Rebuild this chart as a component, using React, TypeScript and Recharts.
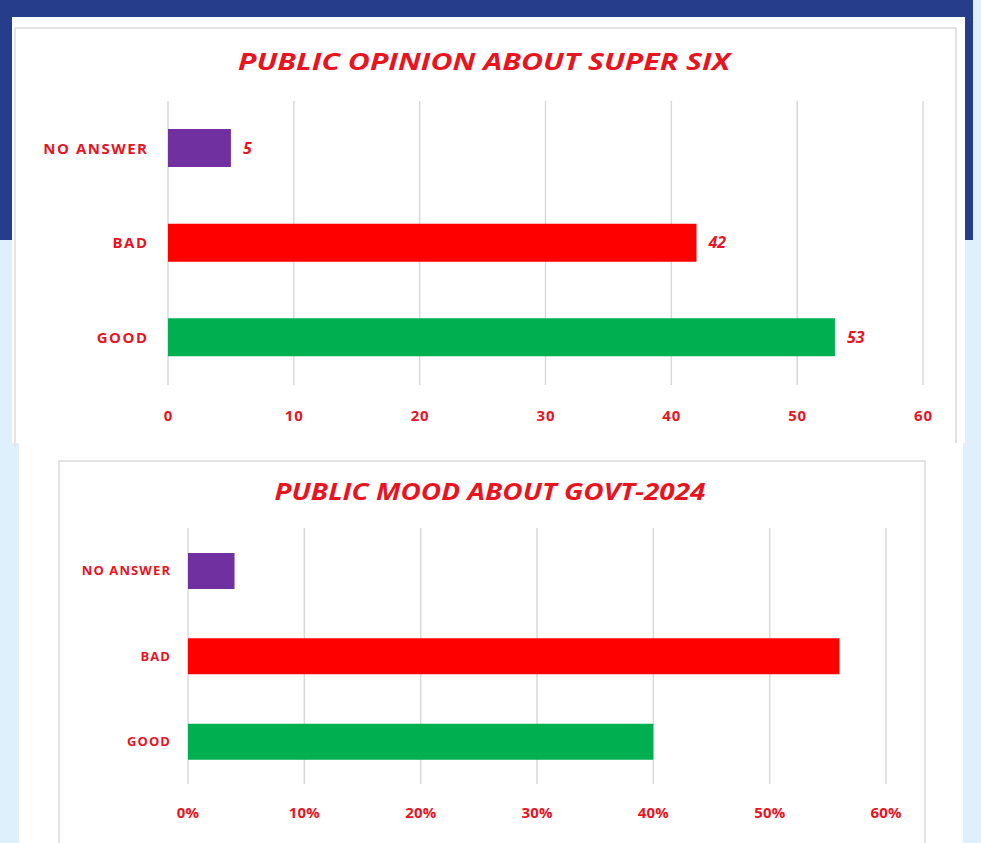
import React from 'react';
import { BarChart, Bar, XAxis, YAxis, CartesianGrid, Cell, LabelList } from 'recharts';

const categories = ['NO ANSWER', 'BAD', 'GOOD'];
const opinionValues = [5, 42, 53];
const moodValues = [4, 56, 40];
const barColors = ['#7030a0', '#ff0000', '#00b050'];
const opinionTicks = [0, 10, 20, 30, 40, 50, 60];
const moodTicks = [0, 10, 20, 30, 40, 50, 60];
const opinionTitle = 'PUBLIC OPINION ABOUT SUPER SIX';
const moodTitle = 'PUBLIC MOOD ABOUT GOVT-2024';

const opinionData = categories.map((c, i) => ({ category: c, value: opinionValues[i] }));
const moodData = categories.map((c, i) => ({ category: c, value: moodValues[i] }));

const RED = '#e8141f';
const FONT = '"Open Sans", Lato, sans-serif';

const makeYTick = (fontSize: number, spacing: number) => (props: any) => {
  const { x, y, payload } = props;
  return (
    <text x={x + spacing} y={y} dy="0.36em" textAnchor="end" fill={RED} fontFamily={FONT}
      fontWeight={700} fontSize={fontSize} style={{ letterSpacing: spacing }}>
      {payload.value}
    </text>
  );
};

const makeXTick = (fontSize: number, spacing: number, suffix: string) => (props: any) => {
  const { x, y, payload } = props;
  return (
    <text x={x + spacing / 2} y={y} dy="0.36em" textAnchor="middle" fill={RED} fontFamily={FONT}
      fontWeight={700} fontSize={fontSize} style={{ letterSpacing: spacing }}>
      {`${payload.value}${suffix}`}
    </text>
  );
};

const abs = (l: number, t: number, w: number, h: number, extra: any = {}) => ({
  position: 'absolute' as const, left: l, top: t, width: w, height: h, ...extra,
});

export default function App() {
  return (
    <div style={{ position: 'absolute', left: 0, top: 0, width: 981, height: 843, background: '#ddf0fb', overflow: 'hidden' }}>
      {/* dark blue band */}
      <div style={abs(0, 0, 973, 240, { background: '#253d8b' })} />
      {/* panel 1 */}
      <div style={abs(12, 17, 953, 426, { background: '#ffffff' })} />
      <div style={abs(14, 27, 943, 420, { borderLeft: '2px solid #e4e4e4', borderTop: '2px solid #e4e4e4', borderRight: '2px solid #e4e4e4', boxSizing: 'border-box' })} />
      {/* panel 2 */}
      <div style={abs(19, 443, 944, 400, { background: '#ffffff' })} />
      <div style={abs(58, 460, 868, 390, { border: '2px solid #e4e4e4', boxSizing: 'border-box' })} />

      {/* titles */}
      <svg style={abs(0, 0, 981, 843)} width={981} height={843}>
        <text x={484} y={70} textAnchor="middle" fill={RED} fontFamily={FONT} fontWeight={700}
          fontStyle="italic" fontSize={23} textLength={492} lengthAdjust="spacingAndGlyphs">
          {opinionTitle}
        </text>
        <text x={490} y={500} textAnchor="middle" fill={RED} fontFamily={FONT} fontWeight={700}
          fontStyle="italic" fontSize={23} textLength={431} lengthAdjust="spacingAndGlyphs">
          {moodTitle}
        </text>
      </svg>

      {/* chart 1 */}
      <div style={abs(12, 17, 953, 426)}>
        <BarChart width={953} height={426} data={opinionData} layout="vertical"
          margin={{ top: 84, right: 42, left: 0, bottom: 0 }}>
          <CartesianGrid horizontal={false} stroke="#d9d9d9" strokeWidth={1.5} />
          <XAxis type="number" domain={[0, 60]} ticks={opinionTicks} axisLine={false} tickLine={false}
            tickSize={0} tickMargin={31} height={58} interval={0} tick={makeXTick(15, 0.8, '')} />
          <YAxis type="category" dataKey="category" axisLine={false} tickLine={false}
            tickSize={0} tickMargin={21} width={156} interval={0} tick={makeYTick(15, 1.5)} />
          <Bar dataKey="value" barSize={38} isAnimationActive={false}>
            {opinionData.map((d, i) => (
              <Cell key={d.category} fill={barColors[i]} />
            ))}
            <LabelList dataKey="value" position="right" offset={12} fill={RED} fontFamily={FONT}
              fontWeight={700} fontStyle="italic" fontSize={16} />
          </Bar>
        </BarChart>
      </div>

      {/* chart 2 */}
      <div style={abs(59, 460, 866, 383)}>
        <BarChart width={866} height={383} data={moodData} layout="vertical"
          margin={{ top: 68, right: 39, left: 0, bottom: 0 }}>
          <CartesianGrid horizontal={false} stroke="#d9d9d9" strokeWidth={1.5} />
          <XAxis type="number" domain={[0, 60]} ticks={moodTicks} axisLine={false} tickLine={false}
            tickSize={0} tickMargin={29} height={59} interval={0} tick={makeXTick(15, 0.2, '%')} />
          <YAxis type="category" dataKey="category" axisLine={false} tickLine={false}
            tickSize={0} tickMargin={18} width={129} interval={0} tick={makeYTick(13, 1.1)} />
          <Bar dataKey="value" barSize={36} isAnimationActive={false}>
            {moodData.map((d, i) => (
              <Cell key={d.category} fill={barColors[i]} />
            ))}
          </Bar>
        </BarChart>
      </div>
    </div>
  );
}
